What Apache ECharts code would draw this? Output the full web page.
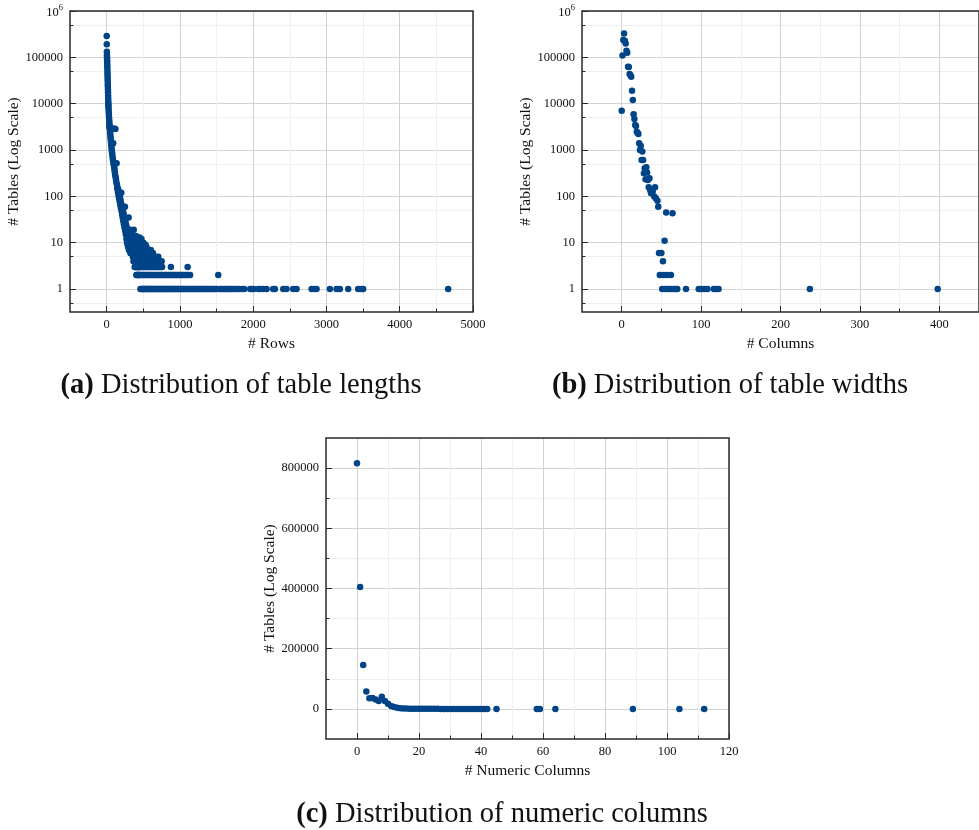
<!DOCTYPE html>
<html><head><meta charset="utf-8">
<script src="https://cdn.jsdelivr.net/npm/echarts@6/dist/echarts.min.js"></script>
<style>html,body{margin:0;padding:0;background:#fff}#c{width:979px;height:830px}</style>
</head><body><div id="c"></div>
<script>
// ---------------- Panel (a): # Rows vs # Tables (log) ----------------
const rowsHead = [[1,288000],[2,192000],[3,132000],[4,112000],[5,100000],[6,90000],[7,82000],[8,72000],[9,64000],[10,56000],[11,49000],[12,43000],[13,38000],[14,34000],[15,30000],[16,26000],[17,23000],[18,20000],[19,17500],[20,15000],[21,13000],[22,11500],[23,10200],[24,9300],[25,8500],[27,7400],[29,6500],[31,5700],[33,5000],[35,4400],[36,3200],[37,3900],[39,3500],[41,3200],[43,2900],[46,2600],[49,2300],[52,2000],[55,1800],[58,1600],[61,1400],[64,1250],[67,1100],[70,990],[74,880],[78,780],[82,690],[86,610],[90,1400],[93,540],[96,480],[100,2900],[104,420],[108,370],[112,330],[116,290],[120,2850],[124,260],[128,230],[132,205],[136,520],[140,180],[144,160],[147,145],
[150,150],[154,125],[158,140],[162,105],[166,120],[170,90],[174,105],[178,78],[182,95],[186,66],[190,82],[194,56],[198,70],[200,120],[204,48],[208,62],[212,40],[216,55],[220,34],[224,48],[228,29],[232,42],[236,25],[240,36],[244,21],[248,32],[250,60],[254,18],[258,28],[262,15],[266,24],[270,12],[274,21],[278,10],[282,19],[286,9],[290,17],[294,8],[298,15],[300,35],[304,7],[308,13],[312,7],[316,12],[320,19],[324,6],[328,11],[332,6],[336,10],[340,6],[344,14],[348,6],[350,18],[354,9],[358,5],[362,12],[366,4],[370,19],[374,8],[378,4],[382,11],[386,6],[390,3],[394,9],[398,5],[400,14],[404,7],[408,3],[412,8],[416,2],[420,11],[424,6],[428,3],[432,7],[436,2],[440,9],[444,5],[448,2],[450,13],[454,6],[458,3]];
const rowsWithOneTable = [461,473,487,499,511,523,537,549,561,577,589,601,613,627,641,653,667,679,691,707,719,733,747,761,773,787,801,817,829,843,857,871,887,901,917,931,947,961,977,991,1007,1023,1041,1057,1073,1091,1109,1127,1143,1161,1179,1197,1215,1233,1251,1270,1289,1307,1326,1345,1363,1381,1402,1421,1440,1462,1483,1505,1547,1568,1590,1612,1633,1655,1678,1702,1727,1755,1782,1811,1850,1877,1960,1985,2010,2069,2100,2137,2183,2273,2296,2410,2455,2546,2592,2797,2835,2865,3047,3138,3183,3297,3433,3479,3501,4661];
const rowsWithTwoTables = [405,425,445,463,481,497,515,533,551,569,587,605,623,643,661,681,699,717,737,755,775,793,813,833,851,869,889,909,929,949,969,989,1011,1031,1051,1071,1093,1113,1139,1523];
const rowsWithThreeTables = [383,397,411,427,441,457,471,491,507,521,539,555,571,591,609,629,647,665,685,703,721,741,757,877,1105];
const rowsWithFourTables = [389,403,419,435,451,467,483,503,519,535,553,573,593,615,637,659,683,713,751];
const rowsWithFiveTables = [413,431,449,469,489,509,529,547,575,599,614,645,671,705];
const rowsWithMoreTables = [[459,10],[465,7],[475,12],[477,6],[485,8],[493,9],[501,10],[505,6],[513,8],[517,7],[527,6],[531,9],[541,7],[545,8],[557,6],[583,6],[603,7],[631,6]];
const rowTicks = [0,1000,2000,3000,4000,5000];
const rowMinorTicks = [500,1500,2500,3500,4500];

// ---------------- Panel (b): # Columns vs # Tables (log) ----------------
const colCounts = [[0,7060],[1,110000],[2,236000],[3,329000],[4,228000],[5,200000],[6,139000],[7,126000],[8,62700],[9,62000],[10,43600],[11,40900],[12,38200],[13,19100],[14,12000],[15,5910],[16,4680],[17,3470],[18,3310],[19,2490],[20,2370],[21,2220],[22,1400],[23,1000],[24,1240],[25,612],[26,924],[27,612],[28,316],[29,405],[30,235],[31,426],[32,326],[33,227],[34,158],[35,247],[36,134],[37,117],[39,127],[41,99],[42,158],[43,91],[45,80],[46,60],[47,6],[48,2],[50,6],[51,1],[52,4],[53,2],[54,11],[55,1],[56,45],[57,2],[58,1],[60,1],[62,2],[63,1],[64,43],[66,1],[68,1],[70,1],[81,1],[97,1],[100,1],[104,1],[108,1],[116,1],[119,1],[122,1],[237,1],[398,1]];
const colTicks = [0,100,200,300,400];
const colMinorTicks = [50,150,250,350];

// ---------------- Panel (c): # Numeric Columns vs # Tables ----------------
const numericColumns = [0,1,2,3,4,5,6,7,8,9,10,11,12,13,14,15,16,17,18,19,20,21,22,23,24,25,26,27,28,29,30,31,32,33,34,35,36,37,38,39,40,41,42,45,58,59,64,89,104,112];
const numericTables = [816000,405000,146000,57400,35000,36000,31000,26000,40000,26000,17000,10000,6000,3500,2200,1500,1100,800,620,480,370,290,230,180,140,110,90,72,58,46,37,30,24,19,15,12,9,7,5,4,3,2,2,1,1,1,1,1,1,1];
const numTicks = [0,20,40,60,80,100,120];
const numMinorTicks = [10,30,50,70,90,110];
const tableTicks = [0,200000,400000,600000,800000];
const tableMinorTicks = [100000,300000,500000,700000];

const logMajor = [1,10,100,1000,10000,100000,1000000];
const logMinor = [0.5,5,50,500,5000,50000,500000];

const captions = ['Distribution of table lengths','Distribution of table widths','Distribution of numeric columns'];

// ---------------- styling ----------------
const FONT = 'Liberation Serif';
const INK = '#111';
const FRAME = '#2a2a2a';
const GRID_MAJOR = '#d2d2d2';
const GRID_MINOR = '#efefef';
const DOT = '#004488';
const LOG_MIN = 0.32;

const grids = [
  {left:70, top:11, width:403, height:301},
  {left:582, top:11, width:402, height:301},
  {left:326, top:438, width:403, height:301}
].map(g => Object.assign(g, {show:true, borderColor:FRAME, borderWidth:1.5, backgroundColor:'transparent', z:3}));

const xAxes = [], yAxes = [];
function plain(v){ return String(Math.round(v)); }
function addX(gi, min, max, major, minor, name){
  xAxes.push({type:'value', gridIndex:gi, min, max, position:'bottom',
    axisLine:{show:false, onZero:false}, axisTick:{show:true, inside:true, length:3.5, customValues:minor, lineStyle:{color:FRAME}},
    axisLabel:{show:false}, splitLine:{show:true, lineStyle:{color:GRID_MINOR, width:1}}});
  xAxes.push({type:'value', gridIndex:gi, min, max, position:'bottom',
    axisLine:{show:false, onZero:false}, axisTick:{show:true, inside:true, length:6, customValues:major, lineStyle:{color:FRAME}},
    axisLabel:{customValues:major, formatter:plain, fontFamily:FONT, fontSize:12.5, color:INK, margin:6, hideOverlap:false},
    splitLine:{show:true, lineStyle:{color:GRID_MAJOR, width:1}},
    name, nameLocation:'middle', nameGap:24, nameTextStyle:{fontFamily:FONT, fontSize:15.5, color:INK}});
  return xAxes.length - 1;
}
function addY(gi, type, min, max, major, minor, formatter){
  yAxes.push({type, gridIndex:gi, min, max, position:'left',
    axisLine:{show:false, onZero:false}, axisTick:{show:true, inside:true, length:3.5, customValues:minor, lineStyle:{color:FRAME}},
    axisLabel:{show:false}, splitLine:{show:true, lineStyle:{color:GRID_MINOR, width:1}}});
  yAxes.push({type, gridIndex:gi, min, max, position:'left',
    axisLine:{show:false, onZero:false}, axisTick:{show:true, inside:true, length:6, customValues:major, lineStyle:{color:FRAME}},
    axisLabel:{customValues:major, formatter, fontFamily:FONT, fontSize:12.5, color:INK, margin:7, hideOverlap:false,
      rich:{n:{fontFamily:FONT, fontSize:12.5, color:INK, verticalAlign:'bottom', lineHeight:16},
            sup:{fontFamily:FONT, fontSize:8.5, color:INK, verticalAlign:'top', lineHeight:16}}},
    splitLine:{show:true, lineStyle:{color:GRID_MAJOR, width:1}},
    name:'# Tables (Log Scale)', nameLocation:'middle', nameGap:45, nameTextStyle:{fontFamily:FONT, fontSize:15.5, color:INK}});
  return yAxes.length - 1;
}
function logFmt(v){
  const e = Math.round(Math.log10(v));
  if (e === 6) return '{n|10}{sup|6}';
  return String(Math.round(v));
}

const xa = addX(0, -500, 5000, rowTicks, rowMinorTicks, '# Rows');
const ya = addY(0, 'log', LOG_MIN, 1000000, logMajor, logMinor, logFmt);
const xb = addX(1, -50, 450, colTicks, colMinorTicks, '# Columns');
const yb = addY(1, 'log', LOG_MIN, 1000000, logMajor, logMinor, logFmt);
const xc = addX(2, -10, 120, numTicks, numMinorTicks, '# Numeric Columns');
const yc = addY(2, 'value', -100000, 900000, tableTicks, tableMinorTicks, plain);

const dataA = rowsHead
  .concat(rowsWithOneTable.map(r => [r,1]))
  .concat(rowsWithTwoTables.map(r => [r,2]))
  .concat(rowsWithThreeTables.map(r => [r,3]))
  .concat(rowsWithFourTables.map(r => [r,4]))
  .concat(rowsWithFiveTables.map(r => [r,5]))
  .concat(rowsWithMoreTables);
const dataC = numericColumns.map((c,i) => [c, numericTables[i]]);

function scatter(x, y, data){
  return {type:'scatter', xAxisIndex:x, yAxisIndex:y, data, symbol:'circle', symbolSize:6.5,
    itemStyle:{color:DOT, opacity:1}, emphasis:{disabled:true}, z:5};
}

function caption(letter, text, cx, cy){
  return {type:'text', x:cx, y:cy, z:10,
    style:{text:'{b|(' + letter + ')} ' + text, fontFamily:FONT, fontSize:28.5, fill:'#111',
      align:'center', verticalAlign:'middle',
      rich:{b:{fontFamily:FONT, fontSize:28.5, fontWeight:'bold', fill:'#111'}}}};
}

const chart = echarts.init(document.getElementById('c'), null, {renderer:'canvas'});
chart.setOption({
  animation:false,
  backgroundColor:'#fff',
  grid:grids,
  xAxis:xAxes,
  yAxis:yAxes,
  series:[scatter(xa, ya, dataA), scatter(xb, yb, colCounts), scatter(xc, yc, dataC)],
  graphic:[caption('a', captions[0], 241, 386), caption('b', captions[1], 730, 386), caption('c', captions[2], 502, 815)]
});
</script></body></html>
